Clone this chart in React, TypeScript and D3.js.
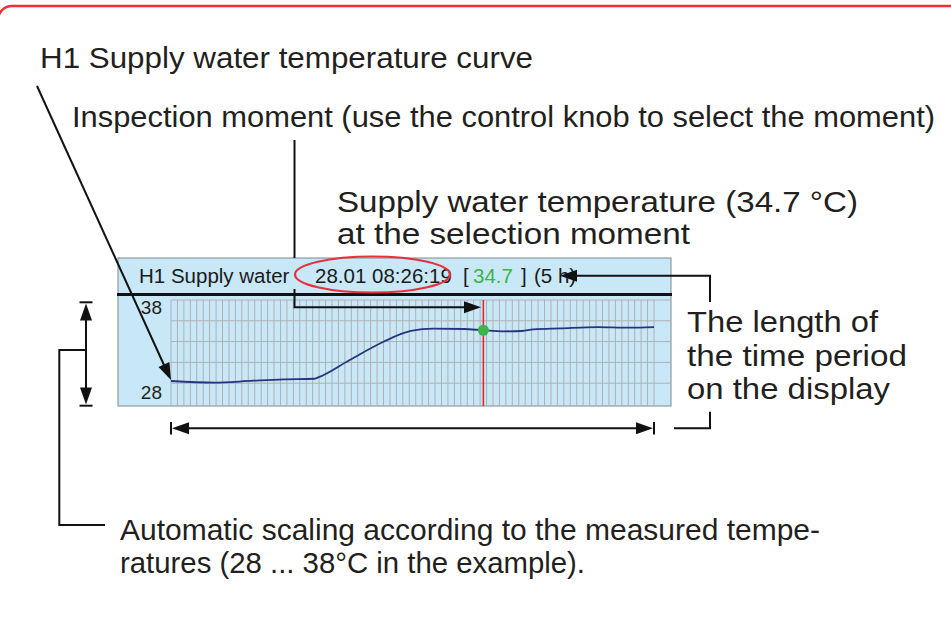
import * as d3 from "d3";

const width = 951;
const height = 623;

// supply water temperature, minutes from start of the 5 h window
const minutes = [0, 27, 51, 70, 89, 91, 111, 132, 149, 163, 182, 194, 206, 218, 225, 242, 265, 284, 300];
const temps = [30.21, 30.05, 30.24, 30.37, 30.43, 30.53, 32.23, 33.99, 35.02, 35.24, 35.21, 35.09, 34.99, 35.02, 35.18, 35.28, 35.4, 35.34, 35.4];
const selIndex = 11;
const yTicks = [30, 32, 34, 36, 38];
const yLabels = [38, 28];
const header = { name: "H1 Supply water", moment: "28.01 08:26:19", value: "34.7", period: "(5 h)" };

const font = "'Liberation Sans', Arial, sans-serif";
const ink = "#231f20";

const panel = { x: 118, y: 258, w: 553, h: 148, sep: 294.5 };

const x = d3.scaleLinear().domain([0, 300]).range([171, 654]);
const y = d3.scaleLinear().domain([28, 38]).range([404, 300]);

const line = d3
  .line<number>()
  .x((_, i) => x(minutes[i]))
  .y((d) => y(d))
  .curve(d3.curveMonotoneX);

// arrowhead polygon, tip at (tx,ty), coming from (fx,fy)
const head = (fx: number, fy: number, tx: number, ty: number, len = 17, hw = 6) => {
  const dx = tx - fx;
  const dy = ty - fy;
  const l = Math.hypot(dx, dy);
  const ux = dx / l;
  const uy = dy / l;
  const bx = tx - ux * len;
  const by = ty - uy * len;
  return `${tx},${ty} ${bx - uy * hw},${by + ux * hw} ${bx + uy * hw},${by - ux * hw}`;
};

const Note = ({ x0, y0, w, children }: { x0: number; y0: number; w: number; children: string }) => (
  <text x={x0} y={y0} fontSize={29} fontFamily={font} fill={ink} textLength={w} lengthAdjust="spacingAndGlyphs">
    {children}
  </text>
);

export default function App() {
  const selX = x(minutes[selIndex]);
  const selY = y(temps[selIndex]);
  const gridTop = y(38);
  const gridBottom = panel.y + panel.h;
  const vLines = d3.range(0, 301, 4);

  return (
    <svg width={width} height={height} style={{ position: "absolute", left: 0, top: 0, background: "#fff" }}>
      <rect x={-2} y={6} width={1000} height={700} rx={14} fill="none" stroke="#ec3237" strokeWidth={2.5} />

      <Note x0={40} y0={68} w={493}>H1 Supply water temperature curve</Note>
      <Note x0={72} y0={127} w={863}>Inspection moment (use the control knob to select the moment)</Note>
      <Note x0={337} y0={212} w={521}>Supply water temperature (34.7 °C)</Note>
      <Note x0={337} y0={244} w={353}>at the selection moment</Note>
      <Note x0={687} y0={332} w={191}>The length of</Note>
      <Note x0={687} y0={366} w={220}>the time period</Note>
      <Note x0={687} y0={399} w={203}>on the display</Note>
      <Note x0={120} y0={540} w={700}>Automatic scaling according to the measured tempe-</Note>
      <Note x0={120} y0={573} w={465}>ratures (28 ... 38°C in the example).</Note>

      {/* display panel */}
      <rect x={panel.x} y={panel.y} width={panel.w} height={panel.h} fill="#c8e8f8" stroke="#7d8a91" strokeWidth={1} />
      <g stroke="#adb1b3" strokeWidth={1}>
        {vLines.map((m) => (
          <line key={m} x1={x(m)} x2={x(m)} y1={gridTop} y2={gridBottom} />
        ))}
        {yTicks.map((t) => (
          <line key={t} x1={x(0)} x2={panel.x + panel.w} y1={y(t)} y2={y(t)} />
        ))}
      </g>
      {yLabels.map((t) => (
        <text
          key={t}
          x={162}
          y={t === 38 ? y(t) + 14 : y(t) - 5}
          textAnchor="end"
          fontSize={19}
          fontFamily={font}
          fill={ink}
        >
          {t}
        </text>
      ))}
      <line x1={panel.x - 1} x2={panel.x + panel.w + 1} y1={panel.sep} y2={panel.sep} stroke="#111" strokeWidth={3} />
      <g fontSize={20.5} fontFamily={font} fill="#1a1a1a">
        <text x={139} y={283}>{header.name}</text>
        <text x={315} y={283}>{header.moment}</text>
        <text x={463} y={283}>[</text>
        <text x={473} y={283} fill="#3cb44b">{header.value}</text>
        <text x={521} y={283}>]</text>
        <text x={534} y={283}>{header.period}</text>
      </g>
      <path d={line(temps) ?? ""} fill="none" stroke="#27337f" strokeWidth={1.8} />
      <line x1={selX} x2={selX} y1={gridTop} y2={gridBottom} stroke="#e8262b" strokeWidth={1.6} />
      <circle cx={selX} cy={selY} r={5.5} fill="#3bb54a" />
      <ellipse cx={372.5} cy={274.5} rx={77.5} ry={18} fill="none" stroke="#e6313a" strokeWidth={2.2} />

      {/* annotation arrows */}
      <g stroke="#111" strokeWidth={2} fill="none">
        <line x1={37} y1={86} x2={169} y2={376} />
        <line x1={294.5} y1={140} x2={294.5} y2={panel.y} />
        <polyline points={`294.5,289 294.5,307.3 468,307.3`} />
        <polyline points={`572,275.7 710,275.7 710,302`} />
        <polyline points={`710,411.7 710,428.3 674,428.3`} />
        <line x1={x(0) + 10} x2={x(300) - 10} y1={428.3} y2={428.3} />
        <line x1={x(0)} x2={x(0)} y1={422} y2={434.5} />
        <line x1={x(300)} x2={x(300)} y1={422} y2={434.5} />
        <line x1={86} x2={86} y1={312} y2={396} />
        <line x1={79.5} x2={92.5} y1={302.3} y2={302.3} />
        <line x1={79.5} x2={92.5} y1={405.7} y2={405.7} />
        <polyline points={`86,350 59.3,350 59.3,525 105,525`} />
      </g>
      <g fill="#111">
        <polygon points={head(37, 86, 171, 380)} />
        <polygon points={head(294.5, 307.3, 481, 307.3)} />
        <polygon points={head(710, 275.7, 560, 275.7)} />
        <polygon points={head(x(300), 428.3, x(0) + 1, 428.3)} />
        <polygon points={head(x(0), 428.3, x(300) - 1, 428.3)} />
        <polygon points={head(86, 406, 86, 303.5)} />
        <polygon points={head(86, 302, 86, 404.5)} />
      </g>
    </svg>
  );
}
